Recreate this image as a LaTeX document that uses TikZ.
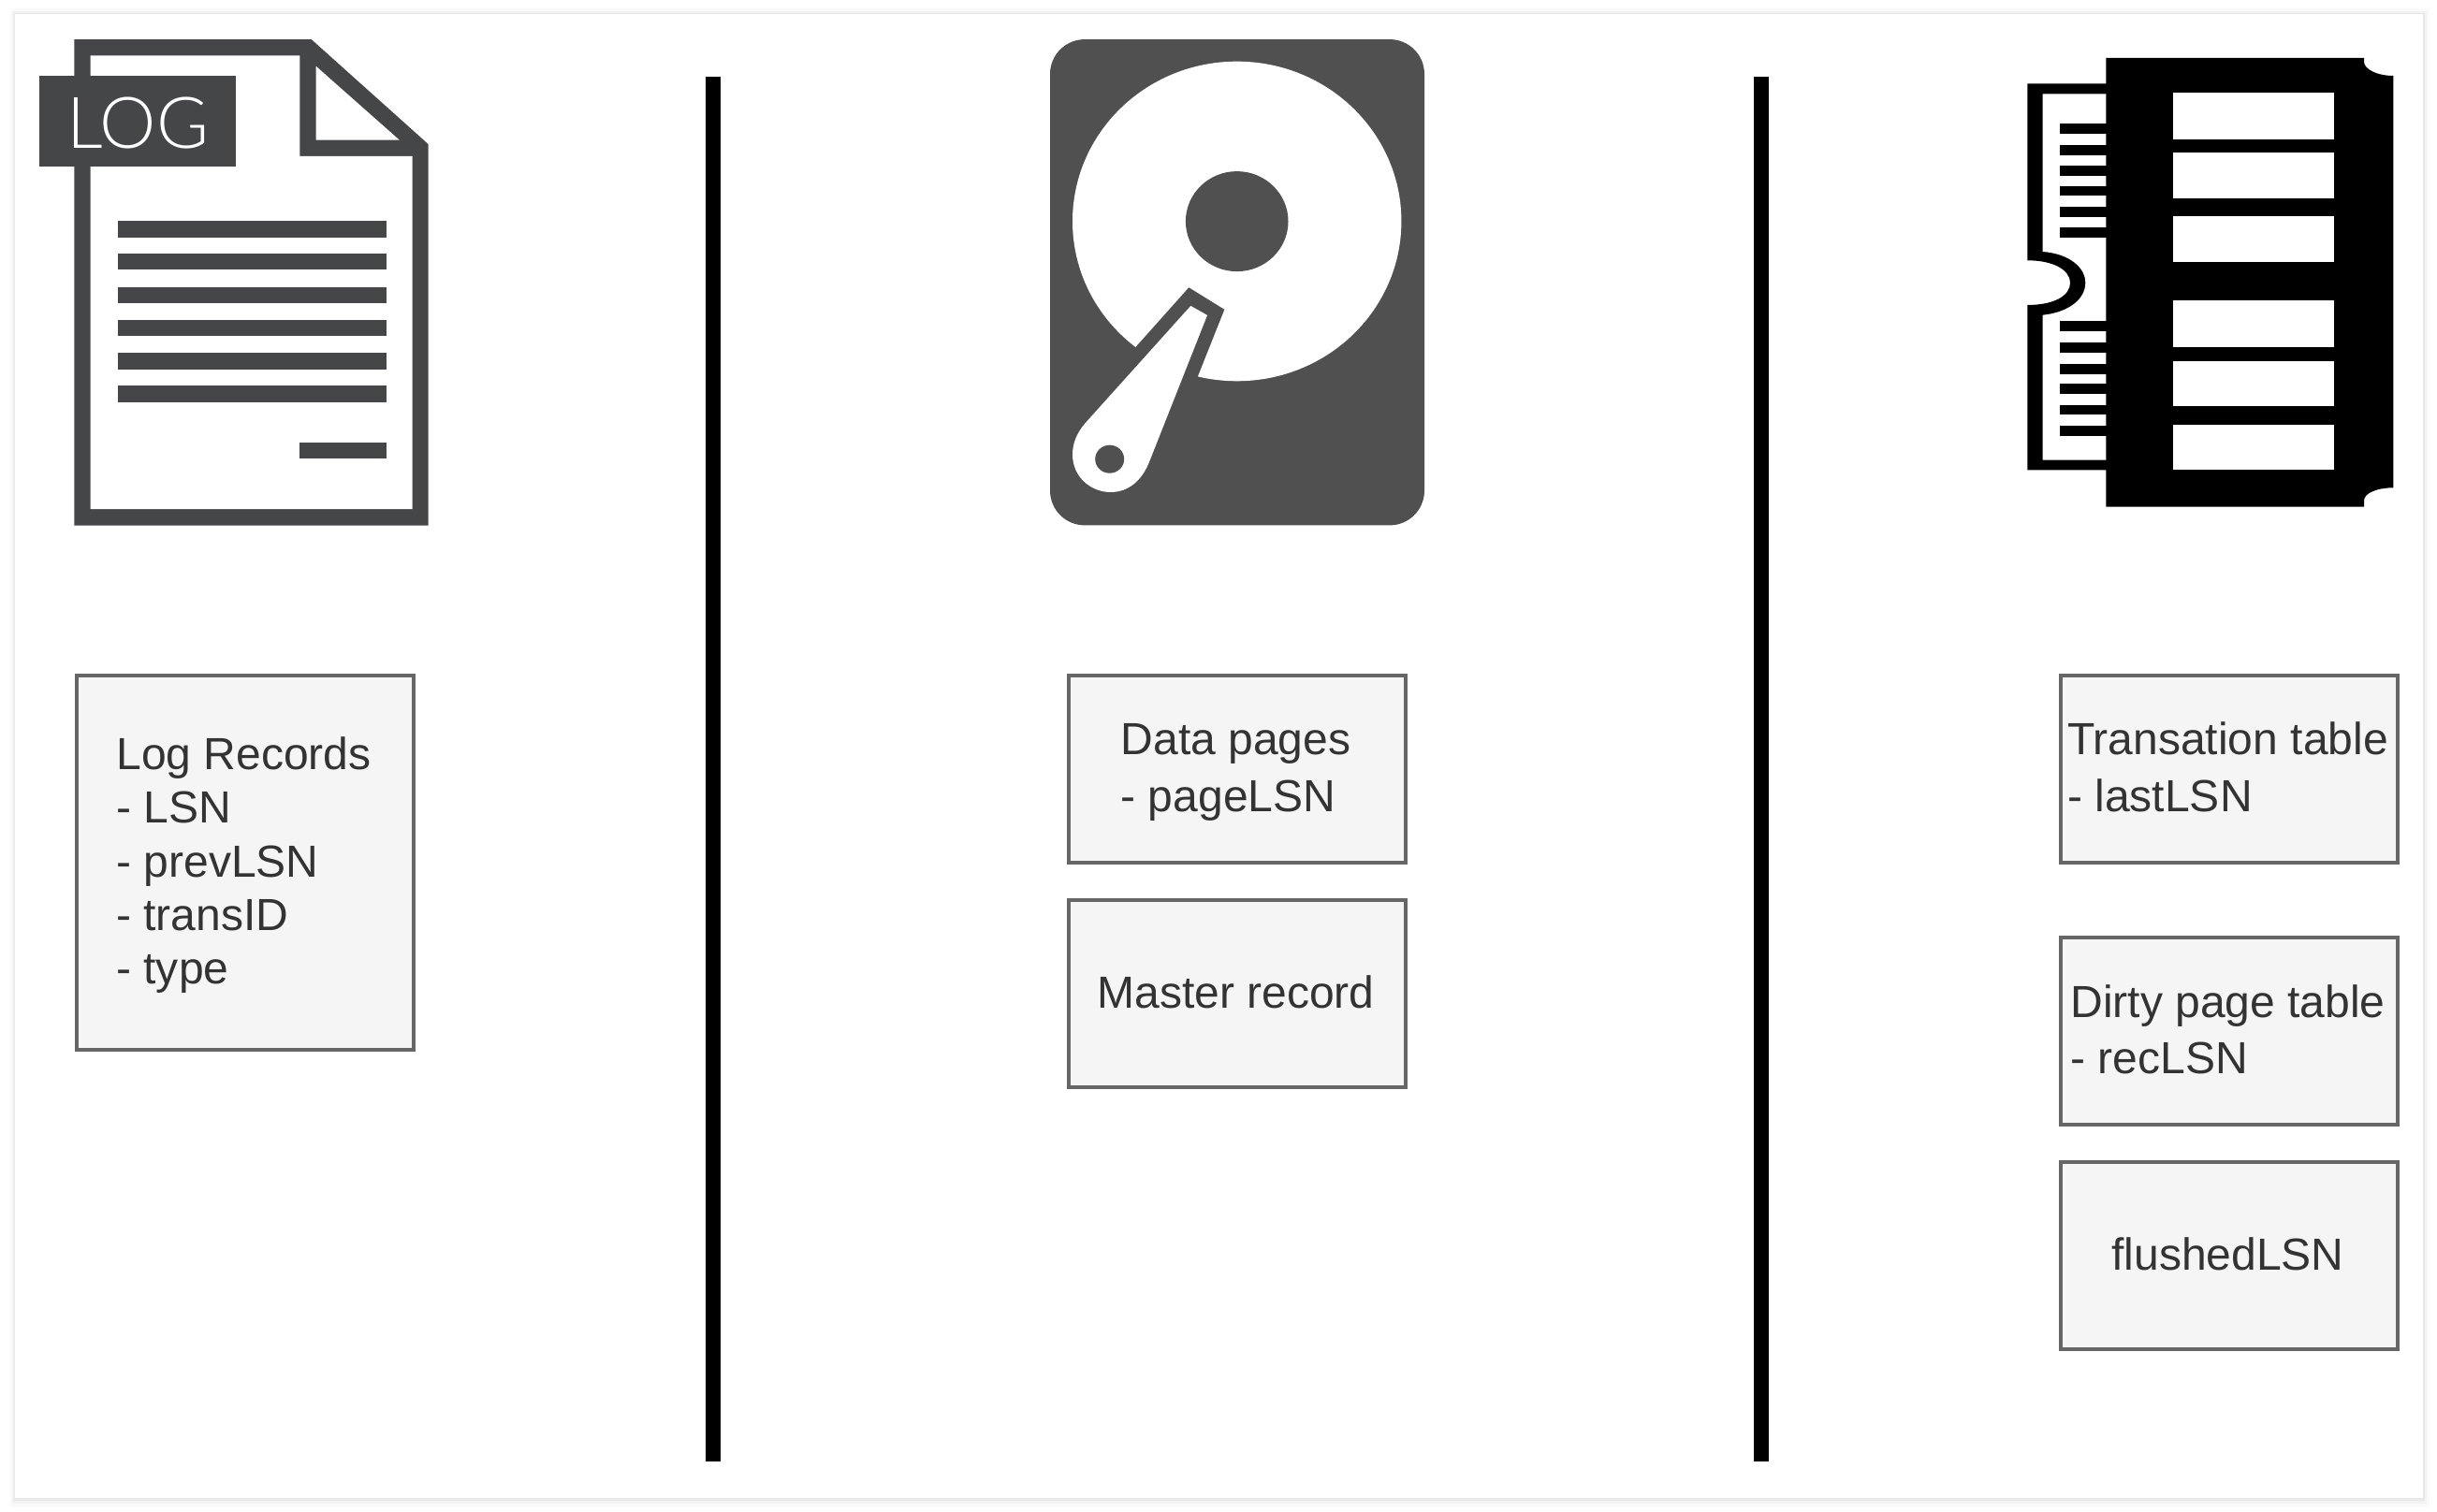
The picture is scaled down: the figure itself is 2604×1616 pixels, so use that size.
\documentclass[tikz,border=0pt]{standalone}
\usepackage{fontspec}
\setmainfont{Liberation Sans}
\newfontfamily\logfont{Lato Light}
\definecolor{iconlog}{HTML}{454648}
\definecolor{icondisk}{HTML}{505050}
\definecolor{boxfill}{HTML}{F5F5F5}
\definecolor{boxline}{HTML}{666666}
\definecolor{boxtext}{HTML}{333333}
\newcommand{\st}{\rule[-2.845pt]{0pt}{14.225pt}}
\newcommand{\rt}{\kern0.85pt}
\tikzset{
  recbox/.style={draw=boxline,fill=boxfill,line width=1.138pt,text=boxtext,inner sep=0pt,align=left,
    minimum width=3.6cm,font=\fontsize{13.66}{17.07}\selectfont},
  twoh/.style={minimum height=2cm},
  fourh/.style={minimum height=4cm,font=\fontsize{13.66}{16.3}\selectfont},
  divider/.style={line width=4.552pt,draw=black},
  logicon/.style={fill=iconlog,draw=none},
  diskicon/.style={fill=icondisk,draw=none},
  paper/.style={fill=white,draw=none},
}
\begin{document}
\begin{tikzpicture}[x=0.01cm,y=-0.01cm]
\useasboundingbox (0,0) rectangle (2604,1616);
% page and its soft shadow
\fill[white] (0,0) rectangle (2604,1616);
\fill[black!2] (11,9) rectangle (2596,1611);
\fill[black!5] (13,12) rectangle (2593,1607);
\fill[black!9] (15,14) rectangle (2591,1604);
\fill[white] (16,15) rectangle (2589,1601);
% log icon
\fill[logicon] (79.3,42.1) -- (332.7,42.1) -- (457.7,154.2) -- (457.7,561.7) -- (79.3,561.7) -- cycle;
\fill[paper] (96.7,59.4) -- (320.3,59.4) -- (320.3,166.8) -- (440.7,166.8) -- (440.7,544.2) -- (96.7,544.2) -- cycle;
\fill[paper] (337.7,70.8) -- (426.7,149.6) -- (337.7,149.6) -- cycle;
\fill[logicon] (42,81.5) rectangle (252.3,178.3);
\node[anchor=base west,inner sep=0pt,text=white,font=\logfont\fontsize{21.7}{21.7}\selectfont] (logtag) at (70.5,158.8) {LOG};
\foreach \a/\b in {236.1/253.7,271.3/288.5,306.9/324.1,342.1/359.3,377.3/394.6,412.5/429.7}
  \fill[logicon] (126,\a) rectangle (413,\b);
\fill[logicon] (320,472.6) rectangle (413,489.9);
% disk icon
\fill[diskicon,rounded corners=0.37cm] (1122,42.1) rectangle (1522,561.4);
\fill[paper] (1321.7,236.5) ellipse [x radius=175.7,y radius=170.8];
\fill[diskicon] (1321.7,236.6) ellipse [x radius=54.8,y radius=53.5];
\fill[diskicon] (1214,370.4) -- (1270.3,307.3) -- (1308.3,330.8) -- (1280,401.9) -- (1262,455) -- (1185,404) -- cycle;
\fill[paper] (1160,451.8) .. controls (1150,463) and (1146,475) .. (1146,485.7)
  .. controls (1146,510) and (1166,526) .. (1186.7,526)
  .. controls (1207,526) and (1221,512) .. (1228.3,492.9)
  -- (1290,336.9) -- (1272.3,326.9) -- cycle;
\fill[diskicon] (1185.7,490.7) ellipse [x radius=15.5,y radius=15];
% memory icon
\fill[black] (2250.3,62) -- (2526,62) -- (2526,66) .. controls (2526,74) and (2540,81) .. (2557.3,81)
  -- (2557.3,521.3) .. controls (2540,521.3) and (2526,527) .. (2526,535) -- (2526,541.7) -- (2250.3,541.7)
  -- (2250.3,502.3) -- (2166.3,502.3) -- (2166.3,326) .. controls (2195,326) and (2212,316) .. (2212,302.3)
  .. controls (2212,289) and (2195,278.3) .. (2166.3,278.3) -- (2166.3,89.3) -- (2250.3,89.3) -- cycle;
\fill[paper] (2182.7,100.3) -- (2250.3,100.3) -- (2250.3,491.7) -- (2182.7,491.7) -- (2182.7,336.7)
  .. controls (2210,334) and (2228.3,320) .. (2228.3,302.3)
  .. controls (2228.3,285) and (2210,271) .. (2182.7,269) -- cycle;
\foreach \a/\b in {132/143,154.7/165.7,177/188,198.7/209.3,221/232,243.3/254.3,343.3/354,366.3/377.3,388.7/399.7,410/420.7,433/443.3,455.3/466}
  \fill[black] (2200.7,\a) rectangle (2251,\b);
\foreach \a/\b in {99/148.7,163.3/212,231.3/279.7,321/371,386/434.3,454/502.3}
  \fill[paper] (2322,\a) rectangle (2494.3,\b);
% dividers
\draw[divider] (762,82) -- (762,1562);
\draw[divider] (1882,82) -- (1882,1562);
% boxes
\node[recbox,fourh] (logrec) at (262,922) {\st Log Records\rt\\\st - LSN\\\st - prevLSN\\\st - transID\\\st - type};
\node[recbox,twoh] (datapages) at (1322,822) {\st Data pages\rt\\\st - pageLSN};
\node[recbox,twoh] (master) at (1322,1062) {\st Master record\rt};
\node[recbox,twoh] (transtable) at (2382,822) {\st Transation table\rt\\\st - lastLSN};
\node[recbox,twoh] (dirtytable) at (2382,1102) {\st Dirty page table\rt\\\st - recLSN};
\node[recbox,twoh] (flushed) at (2382,1342) {\st flushedLSN\rt};
\end{tikzpicture}
\end{document}
